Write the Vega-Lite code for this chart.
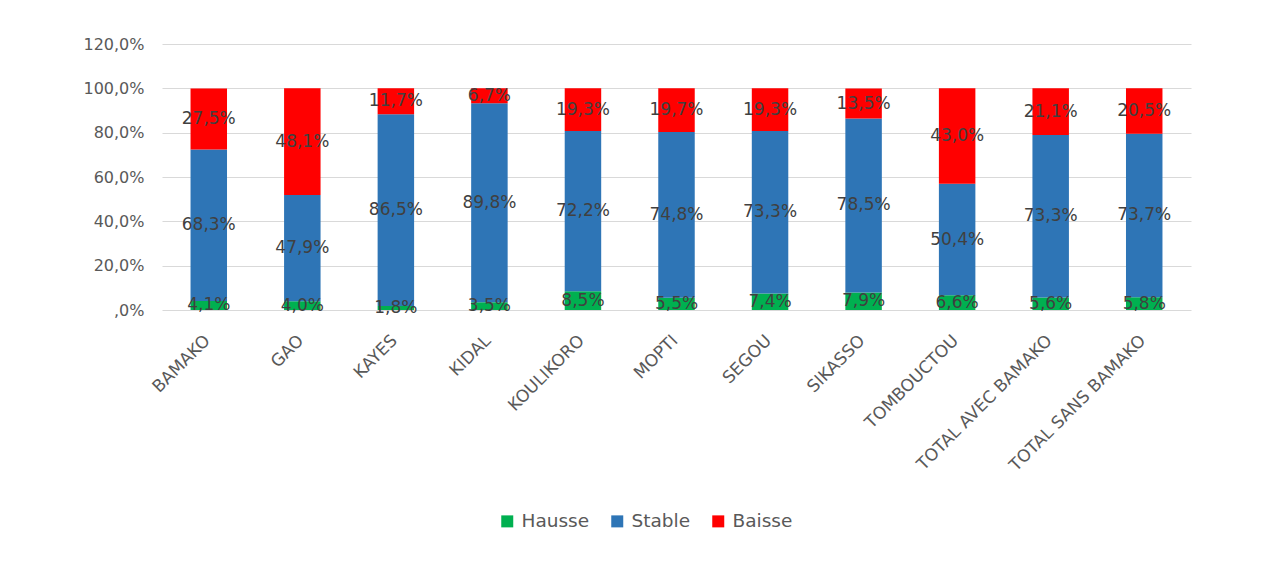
{
  "$schema": "https://vega.github.io/schema/vega-lite/v6.json",
  "width": 1029,
  "height": 266,
  "autosize": {"type": "none"},
  "padding": {"left": 162, "top": 44, "right": 70, "bottom": 253},
  "background": "white",
  "config": {
    "view": {"stroke": null},
    "font": "DejaVu Sans"
  },
  "data": {
    "values": [
      {"region": "BAMAKO", "serie": "Hausse", "ord": 1, "value": 4.1},
      {"region": "BAMAKO", "serie": "Stable", "ord": 2, "value": 68.3},
      {"region": "BAMAKO", "serie": "Baisse", "ord": 3, "value": 27.5},
      {"region": "GAO", "serie": "Hausse", "ord": 1, "value": 4.0},
      {"region": "GAO", "serie": "Stable", "ord": 2, "value": 47.9},
      {"region": "GAO", "serie": "Baisse", "ord": 3, "value": 48.1},
      {"region": "KAYES", "serie": "Hausse", "ord": 1, "value": 1.8},
      {"region": "KAYES", "serie": "Stable", "ord": 2, "value": 86.5},
      {"region": "KAYES", "serie": "Baisse", "ord": 3, "value": 11.7},
      {"region": "KIDAL", "serie": "Hausse", "ord": 1, "value": 3.5},
      {"region": "KIDAL", "serie": "Stable", "ord": 2, "value": 89.8},
      {"region": "KIDAL", "serie": "Baisse", "ord": 3, "value": 6.7},
      {"region": "KOULIKORO", "serie": "Hausse", "ord": 1, "value": 8.5},
      {"region": "KOULIKORO", "serie": "Stable", "ord": 2, "value": 72.2},
      {"region": "KOULIKORO", "serie": "Baisse", "ord": 3, "value": 19.3},
      {"region": "MOPTI", "serie": "Hausse", "ord": 1, "value": 5.5},
      {"region": "MOPTI", "serie": "Stable", "ord": 2, "value": 74.8},
      {"region": "MOPTI", "serie": "Baisse", "ord": 3, "value": 19.7},
      {"region": "SEGOU", "serie": "Hausse", "ord": 1, "value": 7.4},
      {"region": "SEGOU", "serie": "Stable", "ord": 2, "value": 73.3},
      {"region": "SEGOU", "serie": "Baisse", "ord": 3, "value": 19.3},
      {"region": "SIKASSO", "serie": "Hausse", "ord": 1, "value": 7.9},
      {"region": "SIKASSO", "serie": "Stable", "ord": 2, "value": 78.5},
      {"region": "SIKASSO", "serie": "Baisse", "ord": 3, "value": 13.5},
      {"region": "TOMBOUCTOU", "serie": "Hausse", "ord": 1, "value": 6.6},
      {"region": "TOMBOUCTOU", "serie": "Stable", "ord": 2, "value": 50.4},
      {"region": "TOMBOUCTOU", "serie": "Baisse", "ord": 3, "value": 43.0},
      {"region": "TOTAL AVEC BAMAKO", "serie": "Hausse", "ord": 1, "value": 5.6},
      {"region": "TOTAL AVEC BAMAKO", "serie": "Stable", "ord": 2, "value": 73.3},
      {"region": "TOTAL AVEC BAMAKO", "serie": "Baisse", "ord": 3, "value": 21.1},
      {"region": "TOTAL SANS BAMAKO", "serie": "Hausse", "ord": 1, "value": 5.8},
      {"region": "TOTAL SANS BAMAKO", "serie": "Stable", "ord": 2, "value": 73.7},
      {"region": "TOTAL SANS BAMAKO", "serie": "Baisse", "ord": 3, "value": 20.5}
    ]
  },
  "transform": [
    {"stack": "value", "groupby": ["region"], "sort": [{"field": "ord", "order": "ascending"}], "as": ["y0", "y1"]},
    {"calculate": "(datum.y0 + datum.y1) / 2", "as": "ymid"},
    {"calculate": "replace(format(datum.value, '.1f'), '.', ',') + '%'", "as": "label"}
  ],
  "encoding": {
    "x": {
      "field": "region",
      "type": "nominal",
      "sort": null,
      "title": null,
      "scale": {"paddingInner": 0.61, "paddingOuter": 0.305},
      "axis": {
        "labelAngle": -45,
        "labelFontSize": 17,
        "labelColor": "#595959",
        "labelPadding": 22,
        "labelOffset": -7,
        "labelLimit": 400,
        "ticks": false,
        "domain": false
      }
    }
  },
  "layer": [
    {
      "mark": {"type": "bar"},
      "encoding": {
        "y": {
          "field": "y0",
          "type": "quantitative",
          "scale": {"domain": [0, 120]},
          "title": null,
          "axis": {
            "values": [0, 20, 40, 60, 80, 100, 120],
            "labelExpr": "datum.value == 0 ? ',0%' : replace(format(datum.value, '.1f'), '.', ',') + '%'",
            "labelFontSize": 16,
            "labelColor": "#595959",
            "labelPadding": 18,
            "ticks": false,
            "domain": false,
            "gridColor": "#D9D9D9",
            "gridWidth": 1
          }
        },
        "y2": {"field": "y1"},
        "color": {
          "field": "serie",
          "type": "nominal",
          "sort": ["Hausse", "Stable", "Baisse"],
          "scale": {"domain": ["Hausse", "Stable", "Baisse"], "range": ["#00B050", "#2E75B6", "#FF0000"]},
          "legend": {
            "title": null,
            "orient": "none",
            "direction": "horizontal",
            "legendX": 336,
            "legendY": 468,
            "symbolType": "square",
            "symbolSize": 144,
            "symbolStrokeWidth": 0,
            "labelFontSize": 18.5,
            "labelColor": "#595959",
            "labelOffset": 5,
            "columnPadding": 18
          }
        }
      }
    },
    {
      "mark": {"type": "text", "fontSize": 17, "baseline": "middle", "align": "center"},
      "encoding": {
        "y": {"field": "ymid", "type": "quantitative"},
        "text": {"field": "label"},
        "color": {"value": "#404040"}
      }
    }
  ]
}
